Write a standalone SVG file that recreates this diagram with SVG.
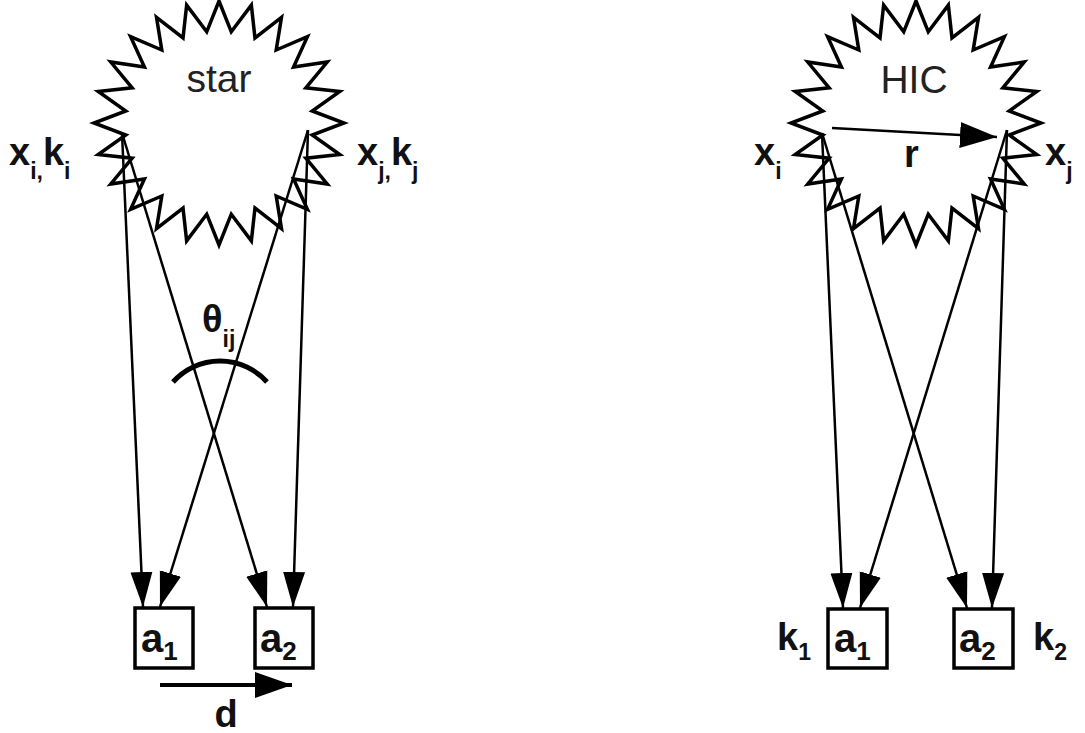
<svg xmlns="http://www.w3.org/2000/svg" width="1085" height="733" viewBox="0 0 1085 733">
<style>
.star{fill:#fff;stroke:#000;stroke-width:3.5;stroke-linejoin:miter}
.box{fill:#fff;stroke:#000;stroke-width:3.5}
.ln{stroke:#000;stroke-width:2.5;fill:none}
.lbl{font-family:"Liberation Sans",Arial,sans-serif;font-weight:bold;font-size:38px;fill:#111}
.sub{font-size:23px}
.bsub{font-size:26px}
.title{font-family:"Liberation Sans",Arial,sans-serif;font-size:39px;fill:#222}
</style>
<defs>
<marker id="ah" markerUnits="userSpaceOnUse" markerWidth="36" markerHeight="24" refX="35" refY="12" orient="auto" viewBox="0 0 36 24">
<path d="M0,1 L35,12 L0,23 z" fill="#000"/>
</marker>
<marker id="ah2" markerUnits="userSpaceOnUse" markerWidth="38" markerHeight="28" refX="37" refY="14" orient="auto" viewBox="0 0 38 28">
<path d="M0,1 L37,14 L0,27 z" fill="#000"/>
</marker>
<polygon id="starshape" class="star" points="0,-122 12.27,-91.21 32.35,-117.84 35.97,-85 62.5,-105.66 57.22,-72.99 88.39,-86.27 74.57,-56.01 108.25,-61 86.84,-35.21 120.74,-31.58 93.2,-12.01 125,0 93.2,12.01 120.74,31.58 86.84,35.21 108.25,61 74.57,56.01 88.39,86.27 57.22,72.99 62.5,105.66 35.97,85 32.35,117.84 12.27,91.21 0,122 -12.27,91.21 -32.35,117.84 -35.97,85 -62.5,105.66 -57.22,72.99 -88.39,86.27 -74.57,56.01 -108.25,61 -86.84,35.21 -120.74,31.58 -93.2,12.01 -125,0 -93.2,-12.01 -120.74,-31.58 -86.84,-35.21 -108.25,-61 -74.57,-56.01 -88.39,-86.27 -57.22,-72.99 -62.5,-105.66 -35.97,-85 -32.35,-117.84 -12.27,-91.21"/>
</defs>
<rect width="1085" height="733" fill="#fff"/>

<g id="star-left">
<use href="#starshape" transform="translate(219,123)"/>
<text class="title" x="219" y="92" text-anchor="middle">star</text>
</g>
<g id="star-right">
<use href="#starshape" transform="translate(916,123)"/>
<text class="title" x="914" y="93" text-anchor="middle">HIC</text>
</g>

<g id="box-left-a1">
<rect class="box" x="135" y="608" width="58" height="60"/>
<text class="lbl" x="141" y="652" style="font-size:40px">a<tspan class="bsub" dy="8">1</tspan></text>
</g>
<g id="box-left-a2">
<rect class="box" x="255" y="608" width="58" height="60"/>
<text class="lbl" x="260" y="652" style="font-size:40px">a<tspan class="bsub" dy="8">2</tspan></text>
</g>
<g id="box-right-a1">
<rect class="box" x="828" y="609" width="59" height="59"/>
<text class="lbl" x="834" y="652" style="font-size:40px">a<tspan class="bsub" dy="8">1</tspan></text>
</g>
<g id="box-right-a2">
<rect class="box" x="954" y="609" width="59" height="59"/>
<text class="lbl" x="959" y="652" style="font-size:40px">a<tspan class="bsub" dy="8">2</tspan></text>
</g>

<g id="labels">
<text class="lbl" x="9" y="165">x<tspan class="sub" dy="14">i,</tspan><tspan dy="-14">k</tspan><tspan class="sub" dy="14">i</tspan></text>
<text class="lbl" x="357" y="165">x<tspan class="sub" dy="14">j,</tspan><tspan dy="-14">k</tspan><tspan class="sub" dy="14">j</tspan></text>
<text class="lbl" x="754" y="165">x<tspan class="sub" dy="14">i</tspan></text>
<text class="lbl" x="1045" y="165">x<tspan class="sub" dy="14">j</tspan></text>
<text class="lbl" x="777" y="650">k<tspan class="sub" dy="10">1</tspan></text>
<text class="lbl" x="1033" y="650">k<tspan class="sub" dy="10">2</tspan></text>
<text class="lbl" x="202" y="332">θ<tspan class="sub" dy="15">ij</tspan></text>
<text class="lbl" x="226" y="727" text-anchor="middle">d</text>
<text class="lbl" x="904" y="167">r</text>
</g>

<g id="connectors">
<line class="ln" x1="122" y1="133" x2="143" y2="607" marker-end="url(#ah)"/>
<line class="ln" x1="122" y1="133" x2="267" y2="607" marker-end="url(#ah)"/>
<line class="ln" x1="308" y1="130" x2="160" y2="607" marker-end="url(#ah)"/>
<line class="ln" x1="308" y1="130" x2="293" y2="607" marker-end="url(#ah)"/>
<line class="ln" x1="822" y1="133" x2="843" y2="608" marker-end="url(#ah)"/>
<line class="ln" x1="822" y1="133" x2="967" y2="608" marker-end="url(#ah)"/>
<line class="ln" x1="1007" y1="130" x2="860" y2="608" marker-end="url(#ah)"/>
<line class="ln" x1="1007" y1="130" x2="992" y2="608" marker-end="url(#ah)"/>
<line class="ln" x1="832" y1="128" x2="997" y2="137" marker-end="url(#ah2)"/>
<line class="ln" x1="160" y1="685" x2="292" y2="685" style="stroke-width:4" marker-end="url(#ah2)"/>
<path d="M173,382 A63,63 0 0 1 267,382" fill="none" stroke="#000" stroke-width="5"/>
</g>
</svg>
